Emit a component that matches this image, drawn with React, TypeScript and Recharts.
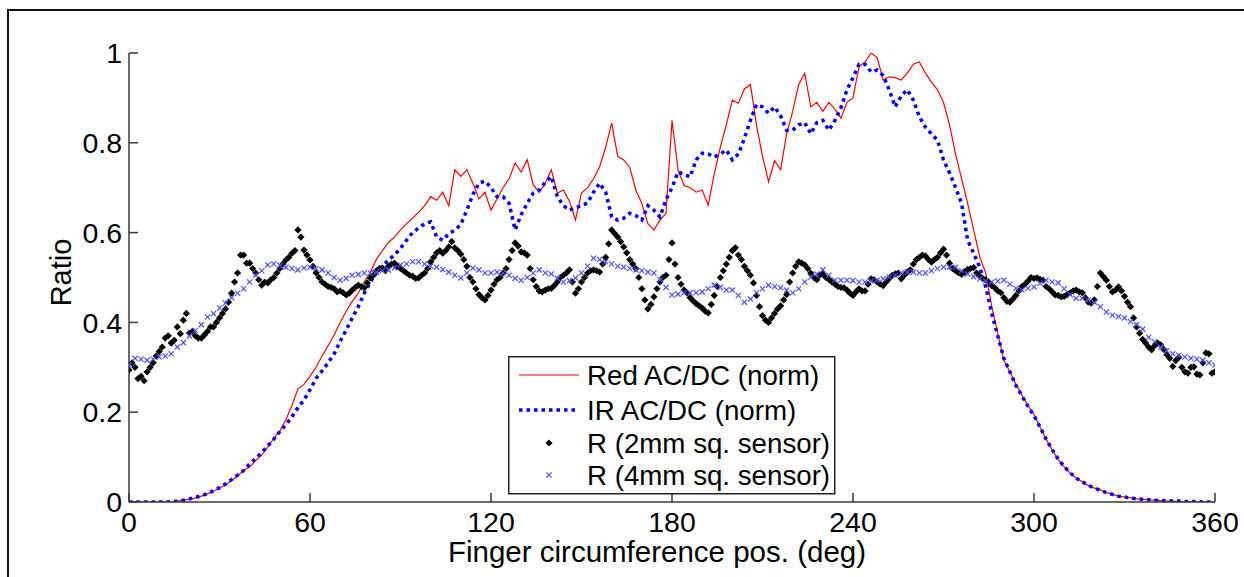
import { ComposedChart, Line, Scatter, XAxis, YAxis, Legend } from "recharts";

// sampled every 2 deg (0..360)
const redAcDc = [
  0, 0, 0, 0, 0, 0, 0, 0, 0.002, 0.004,
  0.006, 0.009, 0.013, 0.018, 0.024, 0.031, 0.038, 0.048, 0.058, 0.071,
  0.078, 0.092, 0.105, 0.122, 0.142, 0.158, 0.183, 0.215, 0.252, 0.262,
  0.28, 0.3, 0.325, 0.348, 0.372, 0.4, 0.425, 0.447, 0.465, 0.49,
  0.512, 0.54, 0.56, 0.578, 0.59, 0.606, 0.62, 0.632, 0.645, 0.66,
  0.68, 0.672, 0.69, 0.66, 0.74, 0.725, 0.74, 0.71, 0.675, 0.69,
  0.65, 0.675, 0.7, 0.72, 0.755, 0.735, 0.762, 0.706, 0.69, 0.71,
  0.74, 0.688, 0.695, 0.67, 0.628, 0.688, 0.7, 0.72, 0.746, 0.79,
  0.844, 0.77, 0.762, 0.745, 0.695, 0.665, 0.62, 0.606, 0.628, 0.643,
  0.85, 0.74, 0.705, 0.7, 0.69, 0.695, 0.661, 0.73, 0.79, 0.84,
  0.895, 0.888, 0.92, 0.93, 0.84, 0.77, 0.713, 0.76, 0.74, 0.82,
  0.87, 0.93, 0.955, 0.88, 0.89, 0.87, 0.89, 0.875, 0.855, 0.89,
  0.9, 0.97, 0.98, 1.0, 0.99, 0.94, 0.947, 0.945, 0.94, 0.955,
  0.975, 0.98, 0.955, 0.935, 0.918, 0.89, 0.84, 0.775, 0.72, 0.665,
  0.606, 0.546, 0.51, 0.435, 0.375, 0.316, 0.29, 0.262, 0.238, 0.215,
  0.195, 0.167, 0.14, 0.116, 0.095, 0.078, 0.064, 0.053, 0.045, 0.037,
  0.031, 0.027, 0.021, 0.017, 0.013, 0.011, 0.009, 0.007, 0.006, 0.005,
  0.004, 0.003, 0.002, 0.002, 0.001, 0.001, 0.001, 0, 0, 0,
  0,
];

const irAcDc = [
  0, 0, 0, 0, 0, 0, 0, 0.001, 0.002, 0.004,
  0.007, 0.01, 0.014, 0.019, 0.025, 0.032, 0.04, 0.05, 0.06, 0.07,
  0.085, 0.097, 0.11, 0.125, 0.14, 0.157, 0.172, 0.19, 0.21, 0.227,
  0.25, 0.275, 0.292, 0.31, 0.33, 0.358, 0.383, 0.41, 0.435, 0.465,
  0.49, 0.51, 0.525, 0.539, 0.55, 0.565, 0.583, 0.6, 0.61, 0.62,
  0.624, 0.59, 0.583, 0.598, 0.605, 0.618, 0.65, 0.685, 0.71, 0.715,
  0.7, 0.68, 0.68, 0.665, 0.606, 0.64, 0.665, 0.688, 0.695, 0.712,
  0.725, 0.68, 0.66, 0.65, 0.655, 0.66, 0.666, 0.69, 0.71, 0.69,
  0.635, 0.628, 0.632, 0.643, 0.638, 0.628, 0.66, 0.65, 0.635, 0.673,
  0.7, 0.735, 0.73, 0.724, 0.762, 0.777, 0.775, 0.768, 0.775, 0.784,
  0.762, 0.775, 0.81, 0.85, 0.885, 0.88, 0.866, 0.88, 0.86, 0.828,
  0.828, 0.84, 0.845, 0.82, 0.845, 0.85, 0.828, 0.85, 0.878, 0.918,
  0.945, 0.975, 0.975, 0.958, 0.962, 0.95, 0.918, 0.88, 0.905, 0.918,
  0.895, 0.858, 0.835, 0.82, 0.806, 0.762, 0.733, 0.7, 0.665, 0.583,
  0.554, 0.523, 0.479, 0.42, 0.37, 0.32, 0.29, 0.26, 0.236, 0.213,
  0.192, 0.167, 0.14, 0.117, 0.096, 0.079, 0.065, 0.053, 0.045, 0.037,
  0.031, 0.026, 0.021, 0.017, 0.013, 0.011, 0.009, 0.007, 0.006, 0.005,
  0.004, 0.003, 0.003, 0.002, 0.002, 0.001, 0.001, 0.001, 0, 0,
  0,
];

const r4mm = [
  0.305, 0.32, 0.318, 0.316, 0.318, 0.323, 0.325, 0.33, 0.345, 0.355,
  0.37, 0.382, 0.395, 0.412, 0.42, 0.432, 0.443, 0.455, 0.465, 0.475,
  0.49, 0.505, 0.515, 0.528, 0.53, 0.527, 0.523, 0.52, 0.517, 0.521,
  0.523, 0.52, 0.517, 0.51, 0.5, 0.494, 0.498, 0.505, 0.507, 0.51,
  0.51, 0.512, 0.515, 0.517, 0.522, 0.528, 0.53, 0.535, 0.535, 0.53,
  0.525, 0.523, 0.518, 0.512, 0.505, 0.499, 0.51, 0.521, 0.517, 0.51,
  0.51, 0.512, 0.51, 0.505, 0.498, 0.494, 0.5, 0.51, 0.517, 0.51,
  0.508, 0.498, 0.49, 0.493, 0.499, 0.51, 0.525, 0.543, 0.54, 0.535,
  0.53, 0.525, 0.523, 0.52, 0.517, 0.515, 0.512, 0.51, 0.495, 0.478,
  0.461, 0.463, 0.466, 0.466, 0.466, 0.468, 0.475, 0.483, 0.478, 0.472,
  0.472, 0.46, 0.445, 0.452, 0.466, 0.475, 0.483, 0.48, 0.477, 0.472,
  0.466, 0.475, 0.49, 0.501, 0.508, 0.517, 0.505, 0.494, 0.494, 0.494,
  0.493, 0.49, 0.49, 0.492, 0.494, 0.497, 0.501, 0.505, 0.51, 0.512,
  0.512, 0.51, 0.51, 0.515, 0.52, 0.523, 0.523, 0.523, 0.515, 0.508,
  0.502, 0.497, 0.492, 0.49, 0.492, 0.494, 0.485, 0.476, 0.472, 0.476,
  0.479, 0.487, 0.494, 0.49, 0.488, 0.475, 0.462, 0.454, 0.454, 0.45,
  0.445, 0.435, 0.423, 0.416, 0.413, 0.41, 0.402, 0.395, 0.385, 0.367,
  0.357, 0.345, 0.337, 0.33, 0.327, 0.323, 0.32, 0.318, 0.316, 0.31,
  0.305,
];

// sampled every 1 deg (0..360)
const r2mm = [
  0.294, 0.31, 0.3, 0.275, 0.28, 0.27, 0.29, 0.3, 0.31, 0.325, 0.335, 0.345, 0.365, 0.37, 0.354, 0.36, 0.39, 0.375, 0.405, 0.42,
  0.376, 0.38, 0.37, 0.365, 0.365, 0.372, 0.38, 0.39, 0.39, 0.4, 0.41, 0.42, 0.43, 0.445, 0.465, 0.49, 0.51, 0.55, 0.55, 0.532,
  0.532, 0.52, 0.51, 0.495, 0.483, 0.49, 0.488, 0.495, 0.5, 0.51, 0.52, 0.53, 0.539, 0.545, 0.554, 0.56, 0.606, 0.59, 0.561, 0.55,
  0.539, 0.525, 0.51, 0.5, 0.49, 0.485, 0.48, 0.478, 0.475, 0.468, 0.47, 0.466, 0.461, 0.465, 0.472, 0.478, 0.483, 0.48, 0.477, 0.488,
  0.499, 0.505, 0.515, 0.52, 0.521, 0.515, 0.525, 0.53, 0.532, 0.525, 0.52, 0.515, 0.51, 0.505, 0.503, 0.498, 0.499, 0.505, 0.51, 0.52,
  0.535, 0.545, 0.555, 0.56, 0.554, 0.56, 0.568, 0.58, 0.566, 0.56, 0.552, 0.54, 0.525, 0.5, 0.49, 0.475, 0.462, 0.455, 0.45, 0.46,
  0.472, 0.485, 0.495, 0.5, 0.51, 0.52, 0.54, 0.56, 0.577, 0.57, 0.557, 0.555, 0.55, 0.52, 0.495, 0.48, 0.47, 0.468, 0.472, 0.475,
  0.476, 0.482, 0.49, 0.5, 0.505, 0.51, 0.517, 0.49, 0.465, 0.475, 0.49, 0.5, 0.51, 0.515, 0.517, 0.515, 0.512, 0.53, 0.545, 0.575,
  0.606, 0.598, 0.59, 0.58, 0.568, 0.555, 0.54, 0.53, 0.52, 0.5, 0.475, 0.45, 0.43, 0.44, 0.457, 0.475, 0.49, 0.5, 0.505, 0.54,
  0.577, 0.53, 0.5, 0.485, 0.472, 0.465, 0.455, 0.448, 0.442, 0.437, 0.432, 0.425, 0.421, 0.44, 0.46, 0.48, 0.5, 0.515, 0.53, 0.545,
  0.56, 0.566, 0.55, 0.54, 0.525, 0.515, 0.505, 0.488, 0.46, 0.435, 0.415, 0.405, 0.4, 0.41, 0.42, 0.43, 0.437, 0.45, 0.462, 0.49,
  0.51, 0.525, 0.535, 0.532, 0.528, 0.52, 0.51, 0.5, 0.495, 0.505, 0.508, 0.5, 0.496, 0.49, 0.485, 0.48, 0.478, 0.477, 0.472, 0.465,
  0.46, 0.468, 0.475, 0.47, 0.47, 0.485, 0.497, 0.495, 0.49, 0.485, 0.482, 0.49, 0.498, 0.505, 0.508, 0.51, 0.497, 0.505, 0.512, 0.517,
  0.53, 0.54, 0.545, 0.55, 0.548, 0.54, 0.534, 0.54, 0.545, 0.555, 0.563, 0.55, 0.532, 0.52, 0.515, 0.51, 0.507, 0.512, 0.518, 0.52,
  0.522, 0.51, 0.503, 0.498, 0.495, 0.49, 0.482, 0.477, 0.47, 0.466, 0.455, 0.447, 0.445, 0.452, 0.46, 0.47, 0.48, 0.485, 0.492, 0.5,
  0.498, 0.499, 0.496, 0.494, 0.48, 0.475, 0.468, 0.461, 0.46, 0.457, 0.458, 0.462, 0.466, 0.47, 0.472, 0.468, 0.466, 0.455, 0.445, 0.443,
  0.45, 0.48, 0.51, 0.502, 0.494, 0.48, 0.468, 0.472, 0.479, 0.47, 0.458, 0.445, 0.435, 0.41, 0.39, 0.376, 0.362, 0.354, 0.345, 0.339,
  0.348, 0.354, 0.35, 0.34, 0.328, 0.32, 0.302, 0.315, 0.322, 0.3, 0.29, 0.287, 0.3, 0.301, 0.285, 0.283, 0.31, 0.332, 0.33, 0.287,
  0.29,
];

const xTicks = [0, 60, 120, 180, 240, 300, 360];
const yTicks = [0, 0.2, 0.4, 0.6, 0.8, 1];

const legendNames = [
  "Red AC/DC (norm)",
  "IR AC/DC (norm)",
  "R (2mm sq. sensor)",
  "R (4mm sq. sensor)",
];

const FONT = '"Liberation Sans", Arial, Helvetica, sans-serif';
const AXIS = "#3a3a3a";
const RED = "#ff0000";
const IR = "#0000ff";
const X4 = "#5050ff";

const redPts = redAcDc.map((v, i) => ({ deg: i * 2, v }));
const irPts = irAcDc.map((v, i) => ({ deg: i * 2, v }));
const r4Pts = r4mm.map((v, i) => ({ deg: i * 2, v }));
const r2Pts = r2mm.map((v, i) => ({ deg: i, v }));

const Diamond = (props: any) => {
  const { cx, cy } = props;
  const r = 3.6;
  return <polygon points={`${cx},${cy - r} ${cx + r},${cy} ${cx},${cy + r} ${cx - r},${cy}`} fill="#000" />;
};

const Cross = (props: any) => {
  const { cx, cy } = props;
  const r = 2.6;
  return (
    <g stroke={X4} strokeWidth={1.2}>
      <line x1={cx - r} y1={cy - r} x2={cx + r} y2={cy + r} />
      <line x1={cx - r} y1={cy + r} x2={cx + r} y2={cy - r} />
    </g>
  );
};

const BottomTick = ({ x, y, payload }: any) => (
  <g>
    <line x1={x} y1={y} x2={x} y2={y - 9} stroke={AXIS} strokeWidth={1.5} />
    <text x={x} y={y + 30} textAnchor="middle" fontSize={28.5} fontFamily={FONT} fill="#000">
      {payload.value}
    </text>
  </g>
);

const TopTick = ({ x, y }: any) => (
  <line x1={x} y1={y} x2={x} y2={y + 9} stroke={AXIS} strokeWidth={1.5} />
);

const LeftTick = ({ x, y, payload }: any) => (
  <g>
    <line x1={x} y1={y} x2={x + 9} y2={y} stroke={AXIS} strokeWidth={1.5} />
    <text x={x - 7} y={y} dy="0.36em" textAnchor="end" fontSize={28.5} fontFamily={FONT} fill="#000">
      {String(payload.value)}
    </text>
  </g>
);

const RightTick = ({ x, y }: any) => (
  <line x1={x} y1={y} x2={x - 9} y2={y} stroke={AXIS} strokeWidth={1.5} />
);

const XTitle = ({ viewBox }: any) => (
  <text x={viewBox.x + viewBox.width / 2 - 15} y={viewBox.y + 60} textAnchor="middle" fontSize={29.5} fontFamily={FONT} fill="#000">
    Finger circumference pos. (deg)
  </text>
);

const YTitle = ({ viewBox }: any) => {
  const cx = viewBox.x - 8;
  const cy = viewBox.y + viewBox.height / 2 - 5;
  return (
    <text x={cx} y={cy} dy="0.36em" textAnchor="middle" fontSize={29} fontFamily={FONT} fill="#000" transform={`rotate(-90 ${cx} ${cy})`}>
      Ratio
    </text>
  );
};

const LegendBox = () => {
  const rows = [19, 54, 87, 119];
  return (
    <svg width={328} height={139} style={{ display: "block" }}>
      <rect x={0.75} y={0.75} width={326} height={137} fill="#fff" stroke="#222" strokeWidth={1.5} />
      <line x1={11} y1={rows[0]} x2={71} y2={rows[0]} stroke={RED} strokeWidth={1.2} />
      <line x1={11} y1={rows[1]} x2={71} y2={rows[1]} stroke={IR} strokeWidth={3.5} strokeDasharray="3.5 4" />
      <Diamond cx={41} cy={rows[2]} />
      <Cross cx={41} cy={rows[3]} />
      {legendNames.map((n, i) => (
        <text key={n} x={79} y={rows[i]} dy="0.36em" fontSize={27.7} fontFamily={FONT} fill="#000">
          {n}
        </text>
      ))}
    </svg>
  );
};

export default function App() {
  return (
    <div style={{ position: "absolute", left: 0, top: 0, width: 1244, height: 577, background: "#fff" }}>
      <div
        style={{
          position: "absolute",
          left: 7,
          top: 9,
          width: 1244,
          height: 577,
          borderLeft: "2px solid #111",
          borderTop: "2px solid #111",
        }}
      />
      <ComposedChart width={1244} height={577} margin={{ top: 53, right: 29, bottom: 35, left: 69 }}>
        <XAxis
          dataKey="deg"
          type="number"
          domain={[0, 360]}
          ticks={xTicks}
          interval={0}
          height={40}
          tickSize={0}
          tickMargin={0}
          tickLine={false}
          tick={BottomTick}
          axisLine={{ stroke: AXIS, strokeWidth: 1.5 }}
          allowDataOverflow
          label={<XTitle />}
        />
        <XAxis
          xAxisId="top"
          orientation="top"
          type="number"
          domain={[0, 360]}
          ticks={xTicks}
          interval={0}
          height={0}
          tickSize={0}
          tickMargin={0}
          tickLine={false}
          tick={TopTick}
          axisLine={{ stroke: AXIS, strokeWidth: 1.5 }}
          allowDataOverflow
        />
        <YAxis
          dataKey="v"
          type="number"
          domain={[0, 1]}
          ticks={yTicks}
          interval={0}
          width={60}
          tickSize={0}
          tickMargin={0}
          tickLine={false}
          tick={LeftTick}
          axisLine={{ stroke: AXIS, strokeWidth: 1.5 }}
          allowDataOverflow
          label={<YTitle />}
        />
        <YAxis
          yAxisId="right"
          orientation="right"
          type="number"
          domain={[0, 1]}
          ticks={yTicks}
          interval={0}
          width={0}
          tickSize={0}
          tickMargin={0}
          tickLine={false}
          tick={RightTick}
          axisLine={{ stroke: AXIS, strokeWidth: 1.5 }}
          allowDataOverflow
        />
        <Line data={redPts} dataKey="v" type="linear" stroke={RED} strokeWidth={1.2} dot={false} isAnimationActive={false} name={legendNames[0]} />
        <Line data={irPts} dataKey="v" type="linear" stroke={IR} strokeWidth={3.5} strokeDasharray="3.5 4" dot={false} isAnimationActive={false} name={legendNames[1]} />
        <Scatter data={r2Pts} dataKey="v" shape={Diamond} isAnimationActive={false} name={legendNames[2]} />
        <Scatter data={r4Pts} dataKey="v" shape={Cross} isAnimationActive={false} name={legendNames[3]} />
        <Legend
          layout="vertical"
          align="center"
          verticalAlign="middle"
          content={LegendBox}
          wrapperStyle={{ position: "absolute", left: 508, top: 356, width: 328, height: 139 }}
        />
      </ComposedChart>
    </div>
  );
}
